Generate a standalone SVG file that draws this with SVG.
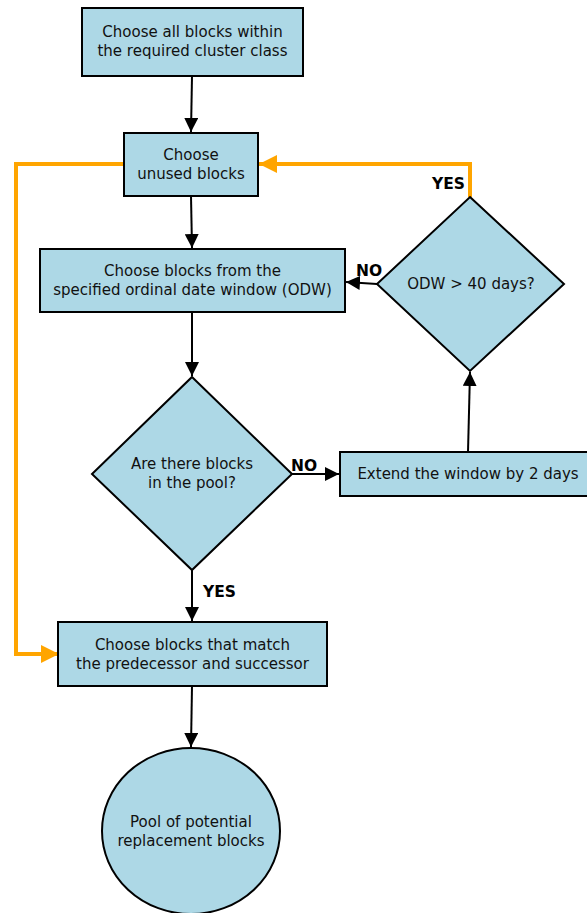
<svg xmlns="http://www.w3.org/2000/svg" width="587" height="913" viewBox="0 0 587 913">
<defs>
<style>
.n{fill:#add8e6;stroke:#000;stroke-width:2}
.t{font-family:"DejaVu Sans",sans-serif;font-size:15px;fill:#111;text-anchor:middle}
.l{font-family:"DejaVu Sans",sans-serif;font-size:15.5px;font-weight:bold;fill:#000}
.e{stroke:#000;stroke-width:2;fill:none}
.o{stroke:#ffa500;stroke-width:4;fill:none}
</style>
<marker id="a" viewBox="0 0 10 10" refX="10" refY="5" markerWidth="7" markerHeight="7" markerUnits="strokeWidth" orient="auto"><path d="M0,0 L10,5 L0,10 z" fill="#000"/></marker>
<marker id="ao" viewBox="0 0 10 10" refX="10" refY="5" markerWidth="4.5" markerHeight="4.5" markerUnits="strokeWidth" orient="auto"><path d="M0,0 L10,5 L0,10 z" fill="#ffa500"/></marker>
</defs>
<rect width="587" height="913" fill="#fff"/>
<g id="edges">
<line class="e" x1="192" y1="76" x2="191" y2="132" marker-end="url(#a)"/>
<line class="e" x1="191" y1="196" x2="192" y2="248" marker-end="url(#a)"/>
<line class="e" x1="192" y1="312" x2="192" y2="376" marker-end="url(#a)"/>
<line class="e" x1="192" y1="570" x2="192" y2="621" marker-end="url(#a)"/>
<line class="e" x1="292" y1="474" x2="339" y2="474" marker-end="url(#a)"/>
<line class="e" x1="468" y1="452" x2="470" y2="372" marker-end="url(#a)"/>
<line class="e" x1="377" y1="284" x2="346" y2="282" marker-end="url(#a)"/>
<line class="e" x1="192" y1="686" x2="191" y2="747" marker-end="url(#a)"/>
<polyline class="o" points="470,197 470,164 259,164" marker-end="url(#ao)"/>
<polyline class="o" points="124,164 16,164 16,654 59,654" marker-end="url(#ao)"/>
<text class="l" x="432" y="189">YES</text>
<text class="l" x="356" y="276">NO</text>
<text class="l" x="291" y="471">NO</text>
<text class="l" x="203" y="597">YES</text>
</g>
<g id="n1"><rect class="n" x="82" y="8" width="221" height="68"/><text class="t" x="192.5" y="37">Choose all blocks within</text><text class="t" x="192.5" y="56">the required cluster class</text></g>
<g id="n2"><rect class="n" x="124" y="133" width="134" height="63"/><text class="t" x="191" y="160">Choose</text><text class="t" x="191" y="179">unused blocks</text></g>
<g id="n3"><rect class="n" x="40" y="249" width="305" height="63"/><text class="t" x="192.5" y="276">Choose blocks from the</text><text class="t" x="192.5" y="295">specified ordinal date window (ODW)</text></g>
<g id="n4"><polygon class="n" points="192,377 292,474 192,570 92,474"/><text class="t" x="192" y="469">Are there blocks</text><text class="t" x="192" y="488">in the pool?</text></g>
<g id="n5"><rect class="n" x="340" y="452" width="252" height="44"/><text class="t" x="468" y="479">Extend the window by 2 days</text></g>
<g id="n6"><polygon class="n" points="470,197 564,284 470,371 377,284"/><text class="t" x="471" y="289">ODW &gt; 40 days?</text></g>
<g id="n7"><rect class="n" x="58" y="622" width="269" height="64"/><text class="t" x="192.5" y="650">Choose blocks that match</text><text class="t" x="192.5" y="669">the predecessor and successor</text></g>
<g id="n8"><ellipse class="n" cx="191" cy="831" rx="89" ry="83"/><text class="t" x="191" y="827">Pool of potential</text><text class="t" x="191" y="846">replacement blocks</text></g>
</svg>
